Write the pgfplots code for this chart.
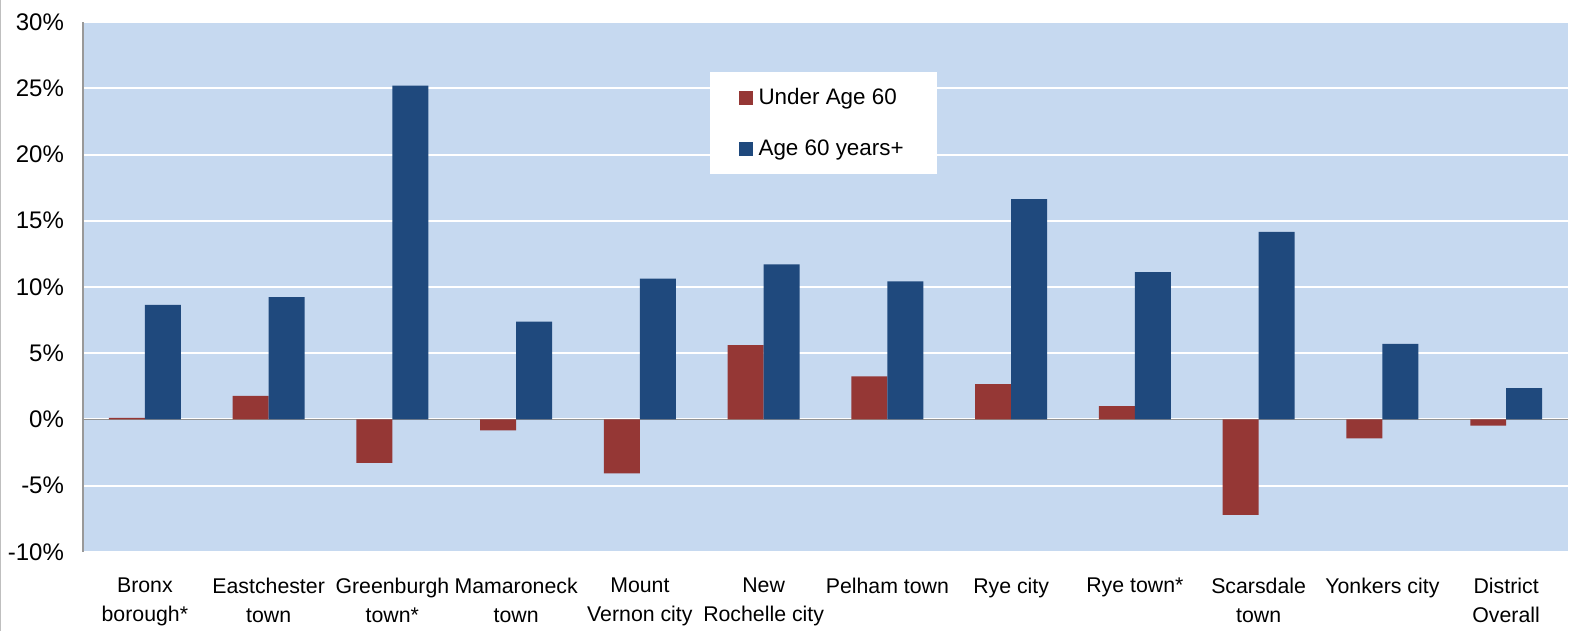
\documentclass[border=0pt]{standalone}
\usepackage{pgfplots}
\pgfplotsset{compat=1.18}
\usepackage{fontspec}
\setmainfont{Liberation Sans}
\definecolor{bg}{HTML}{C6D9F0}
\definecolor{redbar}{HTML}{953735}
\definecolor{bluebar}{HTML}{1F497D}
\begin{document}
\begin{tikzpicture}
\useasboundingbox (-41.5pt,-39.5pt) rectangle (743.5pt,276pt);
\draw[gray!50, line width=0.6pt] (-41.2pt,-39.5pt) -- (-41.2pt,276pt);
\begin{axis}[
  at={(0,0)}, anchor=south west,
  scale only axis, width=742.5pt, height=265pt,
  xmin=-0.5, xmax=11.5, ymin=-10, ymax=30,
  axis background/.style={fill=bg},
  axis lines*=left,
  x axis line style={draw=none},
  y axis line style={draw=gray!80, line width=0.8pt},
  major tick length=0pt,
  ytick={-10,-5,0,5,10,15,20,25,30},
  yticklabels={-10\%,-5\%,0\%,5\%,10\%,15\%,20\%,25\%,30\%},
  yticklabel style={font=\fontsize{12}{14}\selectfont, xshift=-6pt},
  ymajorgrids, grid style={white, line width=1pt},
  extra y ticks={0}, extra y tick labels={},
  extra y tick style={grid style={gray!85, line width=0.8pt}},
  xtick={0,...,11},
  xticklabels={{Bronx\\borough*},{Eastchester\\town},{Greenburgh\\town*},{Mamaroneck\\town},{Mount\\Vernon city},{New\\Rochelle city},{Pelham town},{Rye city},{Rye town*},{Scarsdale\\town},{Yonkers city},{District\\Overall}},
  xticklabel style={font=\fontsize{10.65}{14.5}\selectfont, align=center, yshift=-9.5pt},
  ybar, bar width=0.29,
  legend image code/.code={\fill[#1] (0pt,-3.3pt) rectangle (6.6pt,3.3pt);},
  legend style={at={(0.4222,0.9057)}, anchor=north west, draw=none, fill=white,
    font=\fontsize{11.2}{13}\selectfont, inner xsep=14.5pt, inner ysep=6pt,
    row sep=12pt, column sep=1pt, cells={anchor=west}},
]
\addplot[fill=redbar, draw=none, bar shift=-0.145] coordinates {
(0,0.12) (1,1.79) (2,-3.28) (3,-0.82) (4,-4.07) (5,5.62) (6,3.25) (7,2.67) (8,1.0) (9,-7.2) (10,-1.43) (11,-0.46)};
\addplot[fill=bluebar, draw=none, bar shift=0.145] coordinates {
(0,8.66) (1,9.24) (2,25.2) (3,7.39) (4,10.64) (5,11.70) (6,10.43) (7,16.63) (8,11.12) (9,14.16) (10,5.71) (11,2.37)};
\legend{Under Age 60, Age 60 years+}
\end{axis}
\end{tikzpicture}
\end{document}
